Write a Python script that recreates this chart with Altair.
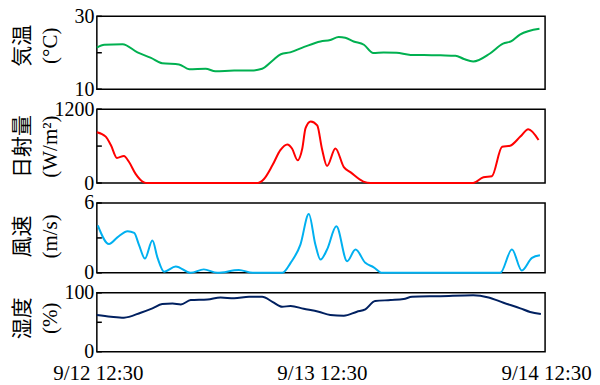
import altair as alt
import pandas as pd

# ---- x axis ----
x_tick_values = [0, 24, 48]
x_tick_labels = ["9/12 12:30", "9/13 12:30", "9/14 12:30"]

# ---- 気温 (°C) ----
temp_hours = [0, 0.8, 2.75, 4.35, 5.8, 7.0, 8.8, 9.9, 11.65, 12.7, 14.7, 16.5, 17.7, 18.8,
              19.7, 20.7, 22.2, 23.95, 25.0, 25.9, 26.6, 27.5, 28.6, 29.6, 30.7, 32.1, 33.6,
              35.0, 36.8, 38.4, 39.3, 40.3, 42.1, 43.5, 44.4, 45.3, 47.4]
temp_values = [21.4, 22.2, 22.35, 20.1, 18.6, 17.1, 16.8, 15.5, 15.6, 14.9, 15.1, 15.1, 15.6,
               17.8, 19.6, 20.1, 21.6, 23.1, 23.5, 24.3, 24.1, 23.1, 22.2, 19.9, 20.1, 20.0,
               19.4, 19.4, 19.3, 19.2, 18.3, 17.6, 19.8, 22.5, 23.2, 25.0, 26.6]

# ---- 日射量 (W/m²) ----
solar_hours = [0, 0.95, 1.5, 2.15, 2.9, 3.45, 4.15, 5.05, 5.4, 17.2, 17.9, 18.8, 19.65, 20.4,
               20.9, 21.5, 22.0, 22.35, 22.9, 23.6, 24.1, 24.65, 25.55, 26.45, 27.15, 28.55,
               29.3, 40.3, 41.4, 42.3, 43.4, 44.25, 45.35, 46.2, 47.3]
solar_values = [825, 754, 617, 408, 440, 341, 148, 10, 0, 0, 66, 287, 535, 627, 561, 370, 561,
                891, 1001, 936, 561, 276, 561, 259, 177, 23, 0, 0, 94, 110, 589, 605, 754, 875,
                700]

# ---- 風速 (m/s) ----
wind_hours = [0.1, 1.3, 2.2, 3.3, 4.0, 4.5, 5.15, 5.95, 6.5, 7.2, 8.45, 10.05, 11.45, 12.9,
              15.2, 16.7, 19.85, 20.75, 21.8, 22.7, 23.4, 23.95, 24.65, 25.65, 26.8, 27.7,
              28.75, 29.65, 30.55, 43.2, 44.45, 45.5, 46.6, 47.45]
wind_values = [4.08, 2.48, 3.05, 3.57, 3.43, 2.43, 1.23, 2.77, 1.29, 0.1, 0.55, 0.0, 0.3, 0.0,
               0.25, 0.0, 0.0, 0.86, 2.43, 5.06, 2.43, 1.14, 2.0, 4.0, 1.0, 2.0, 0.86, 0.48,
               0.0, 0.0, 2.0, 0.2, 1.29, 1.51]

# ---- 湿度 (%) ----
hum_hours = [0, 1.5, 2.9, 4.7, 5.95, 7.0, 8.1, 9.0, 10.05, 11.85, 13.25, 14.7, 16.3, 17.7,
             18.8, 19.85, 20.75, 22.15, 23.75, 25.0, 26.45, 27.85, 28.75, 29.8, 31.45, 32.85,
             33.75, 36.8, 40.3, 41.95, 43.55, 45.35, 46.4, 47.55]
hum_values = [62.4, 59.5, 57.8, 66.3, 73.7, 81, 82, 80.4, 87.7, 88.8, 92.2, 90.6, 93.3, 93.3,
              84.8, 76.4, 77.6, 73, 68, 62.4, 61.2, 68, 72, 86, 87.7, 89.4, 93.3, 94.4, 96.1,
              92.2, 83.1, 73.7, 67.5, 64.1]

LABEL_FONT = "Times New Roman, Liberation Serif, DejaVu Serif, serif"
TITLE_FONT = "Times New Roman, Liberation Serif, Noto Sans CJK JP, serif"

label_expr = " : ".join(
    f"datum.value == {v} ? '{t}'" for v, t in zip(x_tick_values, x_tick_labels)
) + " : ''"


def panel(hours, values, color, ydom, yticks, title_lines, height, title_y, show_x):
    df = pd.DataFrame({"h": hours, "v": values})
    xscale = alt.Scale(domain=[0, 48], nice=False, zero=False)
    yscale = alt.Scale(domain=ydom, nice=False, zero=False)
    if show_x:
        xaxis = alt.Axis(values=x_tick_values, labelExpr=label_expr, title=None,
                         ticks=False, domain=False, grid=False, labelFont=LABEL_FONT,
                         labelFontSize=21, labelColor="black", labelPadding=11,
                         position=1, labelFlush=False, labelOverlap=False)
    else:
        xaxis = None
    yaxis = alt.Axis(values=yticks, title=title_lines, ticks=False, domain=False, grid=False,
                     format="d",
                     labelFont=LABEL_FONT, labelFontSize=20, labelColor="black",
                     labelPadding=3, labelFlush=False, labelOverlap=False,
                     titleFont=TITLE_FONT, titleFontSize=21, titleFontWeight="normal",
                     titleColor="black", titleAngle=270, titleBaseline="middle",
                     titleAlign="center", titleX=-74, titleY=title_y, titleLineHeight=28)
    line = alt.Chart(df).mark_line(color=color, strokeWidth=2, interpolate="monotone").encode(
        x=alt.X("h:Q", scale=xscale, axis=xaxis),
        y=alt.Y("v:Q", scale=yscale, axis=yaxis),
    )
    tdf = pd.DataFrame({"v": yticks})
    ticks = alt.Chart(tdf).mark_rule(color="black", strokeWidth=1.5).encode(
        y=alt.Y("v:Q", scale=yscale),
        x=alt.value(0),
        x2=alt.value(5),
    )
    return alt.layer(line, ticks).properties(width=449, height=height)


p1 = panel(temp_hours, temp_values, "#00B050", [10, 30], [10, 20, 30], ["気温", "(°C)"], 73, 29, False)
p2 = panel(solar_hours, solar_values, "#FF0000", [0, 1200], [0, 600, 1200], ["日射量", "(W/m²)"], 74, 37, False)
p3 = panel(wind_hours, wind_values, "#00B0F0", [0, 6], [0, 3, 6], ["風速", "(m/s)"], 70, 33, False)
p4 = panel(hum_hours, hum_values, "#002060", [0, 100], [0, 50, 100], ["湿度", "(%)"], 59, 25, True)

chart = (
    alt.vconcat(p1, p2, p3, p4, spacing=-2)
    .properties(padding={"left": 3, "top": -3, "right": 0, "bottom": 0})
    .configure(background="white")
    .configure_view(stroke="black", strokeWidth=1.5)
)

chart.save("out.html", embed_options={"renderer": "svg", "actions": False})
